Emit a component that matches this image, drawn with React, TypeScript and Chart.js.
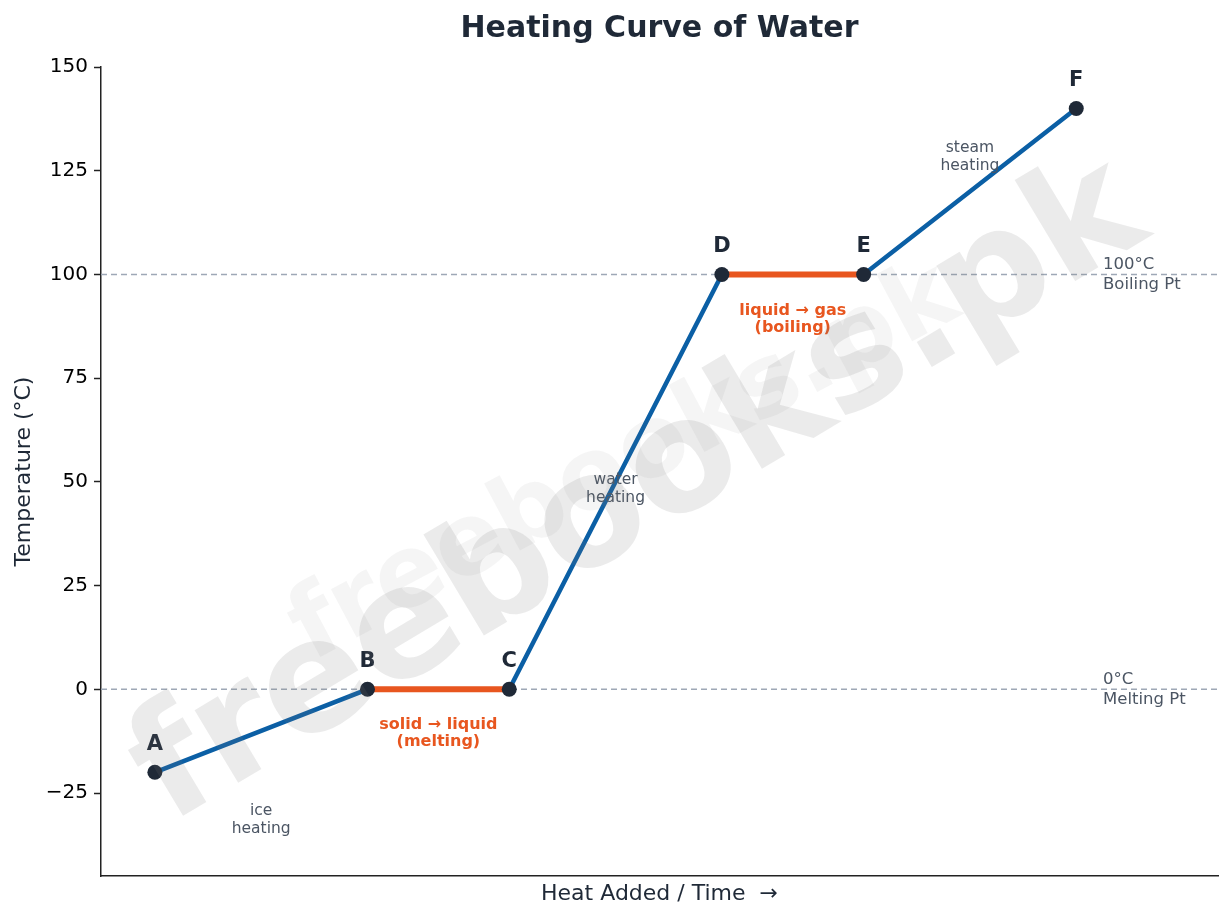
import { useEffect, useRef } from 'react';
import Chart from 'chart.js/auto';

// heating curve of water: heat added (arbitrary units) vs temperature
const pointLabels = ['A', 'B', 'C', 'D', 'E', 'F'];
const heat = [0, 3, 5, 8, 10, 13];
const temperature = [-20, 0, 0, 100, 100, 140];

const refTemps = [0, 100];
const refLabels = [['0°C', 'Melting Pt'], ['100°C', 'Boiling Pt']];

const phaseLabels = [['ice', 'heating'], ['water', 'heating'], ['steam', 'heating']];
const phaseX = [1.5, 6.5, 11.5];
const phaseY = [-31.6, 48.2, 128.3];

const transitionLabels = [['solid → liquid', '(melting)'], ['liquid → gas', '(boiling)']];
const transitionX = [4, 9];
const transitionY = [-10.6, 89.2];

const yTicks = [-25, 0, 25, 50, 75, 100, 125, 150];

const X_MIN = -0.76;
const X_MAX = 15;
const Y_MIN = -45;
const Y_MAX = 150;

const FONT = "'DejaVu Sans', sans-serif";
const DARK = '#1f2937';
const GREY = '#4b5563';
const BLUE = '#0b5fa5';
const ORANGE = '#e8561f';

const curve = heat.map((x, i) => ({ x, y: temperature[i] }));
// flat (phase change) segments, with gaps between them
const plateaus: { x: number; y: number | null }[] = [];
for (let i = 1; i < curve.length; i++) {
    if (curve[i].y === curve[i - 1].y) {
        if (plateaus.length) plateaus.push({ x: (curve[i - 1].x + plateaus[plateaus.length - 1].x) / 2, y: null });
        plateaus.push(curve[i - 1], curve[i]);
    }
}

const overlay = {
    id: 'overlay',
    afterDatasetsDraw(chart: any) {
        const { ctx, scales, chartArea } = chart;
        const xs = scales.x;
        const ys = scales.y;
        ctx.save();
        ctx.textAlign = 'center';
        ctx.textBaseline = 'middle';

        // point letters
        ctx.fillStyle = DARK;
        ctx.font = `bold 21px ${FONT}`;
        curve.forEach((p, i) => {
            ctx.fillText(pointLabels[i], xs.getPixelForValue(p.x), ys.getPixelForValue(p.y) - 28);
        });

        // phase change notes
        ctx.fillStyle = ORANGE;
        ctx.font = `bold 16px ${FONT}`;
        transitionLabels.forEach((lines, i) => {
            const cx = xs.getPixelForValue(transitionX[i]);
            const cy = ys.getPixelForValue(transitionY[i]);
            ctx.fillText(lines[0], cx, cy - 8.5);
            ctx.fillText(lines[1], cx, cy + 8.5);
        });

        // heating notes
        ctx.fillStyle = GREY;
        ctx.font = `15.5px ${FONT}`;
        phaseLabels.forEach((lines, i) => {
            const cx = xs.getPixelForValue(phaseX[i]);
            const cy = ys.getPixelForValue(phaseY[i]);
            ctx.fillText(lines[0], cx, cy - 9);
            ctx.fillText(lines[1], cx, cy + 9);
        });

        // reference line notes
        ctx.textAlign = 'left';
        ctx.font = `16.5px ${FONT}`;
        refTemps.forEach((t, i) => {
            const cy = ys.getPixelForValue(t);
            ctx.fillText(refLabels[i][0], chartArea.right - 115, cy - 10);
            ctx.fillText(refLabels[i][1], chartArea.right - 115, cy + 10.5);
        });
        ctx.restore();
    },
    afterDraw(chart: any) {
        const { ctx, chartArea } = chart;
        ctx.save();

        // watermark
        ctx.textAlign = 'center';
        ctx.textBaseline = 'middle';
        ctx.translate(640, 495);
        ctx.rotate(-0.54);
        ctx.fillStyle = 'rgba(120,120,120,0.15)';
        ctx.font = `bold 155px ${FONT}`;
        ctx.fillText('freebooks.pk', 0, 0);
        ctx.setTransform(1, 0, 0, 1, 0, 0);
        ctx.translate(625, 465);
        ctx.rotate(-0.49);
        ctx.fillStyle = 'rgba(120,120,120,0.07)';
        ctx.font = `bold 100px ${FONT}`;
        ctx.fillText('freebooks.pk', 0, 0);
        ctx.restore();

        ctx.save();
        const dpr = chart.currentDevicePixelRatio || 1;
        ctx.setTransform(dpr, 0, 0, dpr, 0, 0);
        ctx.textAlign = 'center';
        ctx.textBaseline = 'middle';
        ctx.fillStyle = DARK;
        ctx.font = `bold 30px ${FONT}`;
        ctx.fillText('Heating Curve of Water', (chartArea.left + chartArea.right) / 2, 29);

        ctx.font = `22px ${FONT}`;
        ctx.fillText('Heat Added / Time  →', (chartArea.left + chartArea.right) / 2, 894);
        ctx.translate(24, (chartArea.top + chartArea.bottom) / 2);
        ctx.rotate(-Math.PI / 2);
        ctx.fillText('Temperature (°C)', 0, 0);
        ctx.restore();
    },
};

export default function App() {
    const canvasRef = useRef<HTMLCanvasElement>(null);

    useEffect(() => {
        document.body.style.margin = '0';
        const chart = new Chart(canvasRef.current as HTMLCanvasElement, {
            type: 'line',
            data: {
                datasets: [
                    {
                        label: 'points',
                        data: curve,
                        showLine: false,
                        pointRadius: 7.5,
                        pointHoverRadius: 7.5,
                        pointBackgroundColor: DARK,
                        pointBorderWidth: 0,
                        order: 0,
                    },
                    {
                        label: 'phase change',
                        data: plateaus,
                        borderColor: ORANGE,
                        borderWidth: 6,
                        pointRadius: 0,
                        spanGaps: false,
                        order: 1,
                    },
                    {
                        label: 'heating',
                        data: curve,
                        borderColor: BLUE,
                        borderWidth: 4.5,
                        pointRadius: 0,
                        order: 2,
                    },
                    ...refTemps.map((t) => ({
                        label: `${t}°C`,
                        data: [{ x: X_MIN, y: t }, { x: X_MAX, y: t }],
                        borderColor: '#9ea8b6',
                        borderWidth: 1.5,
                        borderDash: [6, 4],
                        pointRadius: 0,
                        order: 3,
                    })),
                ],
            },
            options: {
                animation: false,
                responsive: true,
                maintainAspectRatio: false,
                layout: { padding: { top: 67, right: 14, left: 0, bottom: 0 } },
                plugins: {
                    legend: { display: false },
                    tooltip: { enabled: false },
                },
                scales: {
                    x: {
                        type: 'linear',
                        min: X_MIN,
                        max: X_MAX,
                        grid: { display: false, drawTicks: false },
                        ticks: { display: false },
                        border: { display: true, color: '#222', width: 1.5 },
                        afterFit: (s: any) => { s.height = 43; },
                    },
                    y: {
                        type: 'linear',
                        min: Y_MIN,
                        max: Y_MAX,
                        afterBuildTicks: (s: any) => { s.ticks = yTicks.map((v) => ({ value: v })); },
                        grid: { drawOnChartArea: false, drawTicks: true, tickLength: 7, color: '#222', tickWidth: 1.5 },
                        border: { display: true, color: '#222', width: 1.5 },
                        ticks: {
                            color: '#000',
                            font: { family: FONT, size: 20 },
                            padding: 6,
                            callback: (v: any) => (Number(v) < 0 ? '−' + Math.abs(Number(v)) : String(v)),
                        },
                        afterFit: (s: any) => { s.width = 101; },
                    },
                },
            },
            plugins: [overlay],
        });
        return () => chart.destroy();
    }, []);

    return (
        <div style={{ width: '1232px', height: '919px', position: 'relative', background: '#fff' }}>
            <canvas ref={canvasRef} />
        </div>
    );
}
